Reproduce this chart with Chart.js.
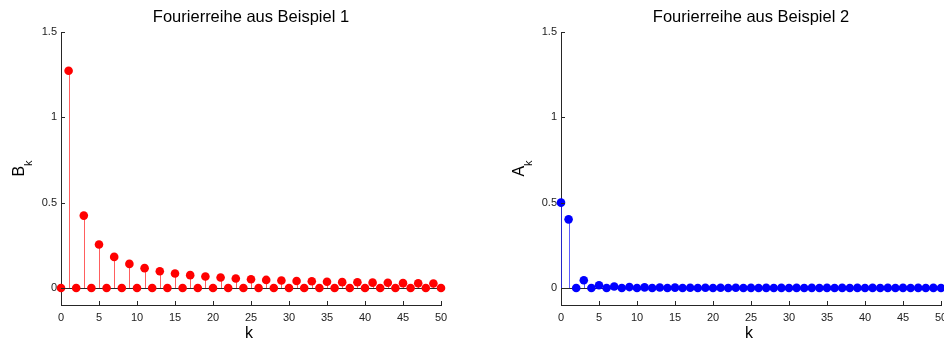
<!DOCTYPE html>
<html>
<head>
<meta charset="utf-8">
<script src="https://cdn.jsdelivr.net/npm/chart.js@4/dist/chart.umd.min.js"></script>
<style>
  html, body { margin: 0; padding: 0; background: #fff; overflow: hidden; }
  .wrap { position: absolute; top: 0; width: 472px; height: 342px; overflow: hidden; }
</style>
</head>
<body>
<div class="wrap" style="left:0"><canvas id="c1" width="490" height="342"></canvas></div>
<div class="wrap" style="left:472px"><canvas id="c2" width="490" height="342"></canvas></div>
<script>
const FONT = '"Liberation Sans", Arial, sans-serif';
const AXIS = '#262626';

const kValues = [0, 1, 2, 3, 4, 5, 6, 7, 8, 9, 10, 11, 12, 13, 14, 15, 16, 17, 18, 19, 20,
  21, 22, 23, 24, 25, 26, 27, 28, 29, 30, 31, 32, 33, 34, 35, 36, 37, 38, 39, 40,
  41, 42, 43, 44, 45, 46, 47, 48, 49, 50];

// Beispiel 1: B_k
const bValues = [0, 1.273, 0, 0.424, 0, 0.255, 0, 0.182, 0, 0.141, 0,
  0.116, 0, 0.098, 0, 0.085, 0, 0.075, 0, 0.067, 0,
  0.061, 0, 0.055, 0, 0.051, 0, 0.047, 0, 0.044, 0,
  0.041, 0, 0.039, 0, 0.036, 0, 0.034, 0, 0.033, 0,
  0.031, 0, 0.030, 0, 0.028, 0, 0.027, 0, 0.026, 0];

// Beispiel 2: A_k
const aValues = [0.5, 0.402, 0, 0.045, 0, 0.016, 0, 0.008, 0, 0.005, 0,
  0.0033, 0, 0.0024, 0, 0.0018, 0, 0.0014, 0, 0.0011, 0,
  0.0009, 0, 0.0008, 0, 0.0006, 0, 0.0006, 0, 0.0005, 0,
  0.0004, 0, 0.0004, 0, 0.0003, 0, 0.0003, 0, 0.0003, 0,
  0.0002, 0, 0.0002, 0, 0.0002, 0, 0.0002, 0, 0.0002, 0];

const xTicks = [0, 5, 10, 15, 20, 25, 30, 35, 40, 45, 50];
const yTicks = [0, 0.5, 1, 1.5];

// stems, baseline, inward ticks and the texts (title, xlabel, ylabel with subscript)
const stemPlugin = {
  id: 'stems',
  beforeDatasetsDraw(chart, args, opts) {
    const { ctx } = chart;
    const xs = chart.scales.x, ys = chart.scales.y;
    const y0 = Math.round(ys.getPixelForValue(0)) + 0.5;
    ctx.save();
    ctx.lineWidth = 1;
    ctx.strokeStyle = opts.stemColor;
    chart.getDatasetMeta(0).data.forEach((pt) => {
      const x = Math.round(pt.x) + 0.5;
      ctx.beginPath();
      ctx.moveTo(x, y0);
      ctx.lineTo(x, pt.y);
      ctx.stroke();
    });
    ctx.strokeStyle = AXIS;
    ctx.beginPath();
    ctx.moveTo(xs.getPixelForValue(0), y0);
    ctx.lineTo(xs.getPixelForValue(50), y0);
    ctx.stroke();
    ctx.restore();
  },
  afterDraw(chart, args, opts) {
    const { ctx, chartArea } = chart;
    const xs = chart.scales.x, ys = chart.scales.y;
    ctx.save();
    ctx.strokeStyle = AXIS;
    ctx.lineWidth = 1;
    xTicks.forEach((v) => {
      const x = Math.round(xs.getPixelForValue(v)) + 0.5;
      ctx.beginPath();
      ctx.moveTo(x, chartArea.bottom);
      ctx.lineTo(x, chartArea.bottom - 4);
      ctx.stroke();
    });
    yTicks.forEach((v) => {
      const y = Math.round(ys.getPixelForValue(v)) + 0.5;
      ctx.beginPath();
      ctx.moveTo(chartArea.left, y);
      ctx.lineTo(chartArea.left + 4, y);
      ctx.stroke();
    });
    const cx = (chartArea.left + chartArea.right) / 2;
    ctx.fillStyle = '#000';
    ctx.textAlign = 'center';
    ctx.textBaseline = 'alphabetic';
    ctx.font = '16.5px ' + FONT;
    ctx.fillText(opts.title, cx, 22);
    ctx.font = '16px ' + FONT;
    ctx.fillText('k', cx - 2, 338);
    // y label, rotated, with subscript
    const cy = (chartArea.top + chartArea.bottom) / 2;
    ctx.translate(chartArea.left - 37, cy);
    ctx.rotate(-Math.PI / 2);
    ctx.textAlign = 'left';
    ctx.font = '16px ' + FONT;
    const wMain = ctx.measureText(opts.ylabel).width;
    ctx.font = '11px ' + FONT;
    const wSub = ctx.measureText(opts.sub).width;
    const start = -(wMain + wSub) / 2;
    ctx.font = '16px ' + FONT;
    ctx.fillText(opts.ylabel, start, 0);
    ctx.font = '11px ' + FONT;
    ctx.fillText(opts.sub, start + wMain, 8);
    ctx.restore();
  }
};

function makeChart(id, values, color, stemColor, title, ylabel, yWidth, padRight) {
  const points = kValues.map((k, i) => ({ x: k, y: values[i] }));
  new Chart(document.getElementById(id).getContext('2d'), {
    type: 'scatter',
    plugins: [stemPlugin],
    data: {
      datasets: [{
        data: points,
        backgroundColor: color,
        borderColor: color,
        borderWidth: 0,
        pointRadius: 4.3,
        clip: false,
      }],
    },
    options: {
      responsive: false,
      animation: false,
      layout: { autoPadding: false, padding: { top: 32, right: padRight, left: 0, bottom: 0 } },
      plugins: {
        legend: { display: false },
        tooltip: { enabled: false },
        stems: { stemColor: stemColor, title: title, ylabel: ylabel, sub: 'k' },
      },
      scales: {
        x: {
          type: 'linear',
          min: 0,
          max: 50,
          afterBuildTicks: (s) => { s.ticks = xTicks.map((v) => ({ value: v })); },
          afterFit: (s) => { s.height = 37; },
          grid: { display: false, drawTicks: false },
          border: { display: true, color: AXIS },
          ticks: { padding: 6, color: '#222', font: { family: FONT, size: 11 } },
        },
        y: {
          min: -0.1,
          max: 1.5,
          afterBuildTicks: (s) => { s.ticks = yTicks.map((v) => ({ value: v })); },
          afterFit: (s) => { s.width = yWidth; },
          grid: { display: false, drawTicks: false },
          border: { display: true, color: AXIS },
          ticks: {
            padding: 4, color: '#222', font: { family: FONT, size: 11 },
            callback: (v) => String(v),
          },
        },
      },
    },
  });
}

// canvases are 490 wide inside 472-wide clipped boxes
makeChart('c1', bValues, '#ff0000', 'rgba(255,40,40,0.75)', 'Fourierreihe aus Beispiel 1', 'B', 61, 49);
makeChart('c2', aValues, '#0000ff', 'rgba(40,40,255,0.75)', 'Fourierreihe aus Beispiel 2', 'A', 89, 21);
</script>
</body>
</html>
